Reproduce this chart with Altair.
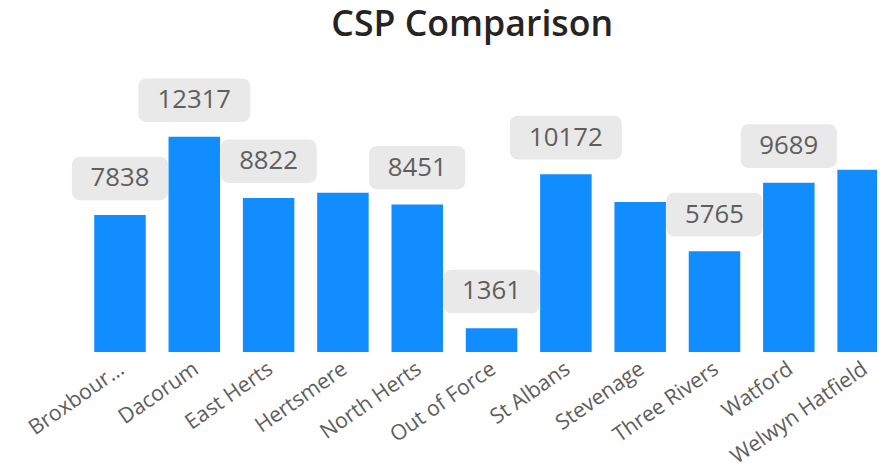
import altair as alt
import pandas as pd

categories = ["Broxbourne", "Dacorum", "East Herts", "Hertsmere", "North Herts",
              "Out of Force", "St Albans", "Stevenage", "Three Rivers", "Watford",
              "Welwyn Hatfield"]
tick_labels = ["Broxbour...", "Dacorum", "East Herts", "Hertsmere", "North Herts",
               "Out of Force", "St Albans", "Stevenage", "Three Rivers", "Watford",
               "Welwyn Hatfield"]
csp_values = [7838, 12317, 8822, 9120, 8451, 1361, 10172, 8590, 5765, 9689, 10430]
label_shown = [True, True, True, False, True, True, True, False, True, True, False]

df = pd.DataFrame({
    "Area": categories,
    "CSP": csp_values,
    "shown": label_shown,
})

label_map = dict(zip(categories, tick_labels))
label_expr = " : ".join(
    [f"datum.value == '{k}' ? '{v}'" for k, v in label_map.items()] + ["datum.value"]
)

FONT = "Open Sans"
BLUE = "#118DFF"

x_enc = alt.X(
    "Area:N",
    sort=categories,
    title=None,
    scale=alt.Scale(range=[23.5, 848.5], paddingInner=0.307, paddingOuter=0.1535),
    axis=alt.Axis(
        labelAngle=-35,
        labelAlign="right",
        labelBaseline="top",
        labelFont=FONT,
        labelFontSize=21.5,
        labelColor="#605E5C",
        labelPadding=6,
        labelOffset=-4,
        labelExpr=label_expr,
        labelOverlap=False,
        labelLimit=300,
        domain=False,
        ticks=False,
        grid=False,
    ),
)
y_enc = alt.Y("CSP:Q", scale=alt.Scale(domain=[0, 16000]), axis=None, title=None)

base = alt.Chart(df)

bars = base.mark_bar(color=BLUE, clip=True).encode(x=x_enc, y=y_enc)

labelled = base.transform_filter("datum.shown")

box4 = labelled.transform_filter("datum.CSP < 10000").mark_bar(
    width=97, cornerRadius=8, color="#E9E9E9", yOffset=-59, y2Offset=-15
).encode(x=x_enc, y=y_enc, y2="CSP:Q")

box5 = labelled.transform_filter("datum.CSP >= 10000").mark_bar(
    width=113, cornerRadius=8, color="#E9E9E9", yOffset=-59, y2Offset=-15
).encode(x=x_enc, y=y_enc, y2="CSP:Q")

texts = labelled.mark_text(
    font=FONT, fontSize=26, color="#605E5C", baseline="alphabetic", align="center", dy=-29
).encode(x=x_enc, y=y_enc, text="CSP:Q")

chart = alt.layer(bars, box4, box5, texts).properties(
    width=825,
    height=282,
    autosize=alt.AutoSizeParams(type="none"),
    padding={"left": 52, "top": 63, "right": 0, "bottom": 120},
    title=alt.Title(
        "CSP Comparison",
        font=FONT,
        fontSize=36,
        fontWeight=600,
        color="#252423",
        anchor="middle",
        frame="group",
        baseline="alphabetic",
        offset=1,
        dx=4,
    ),
).configure_view(stroke=None)

chart.save("out.html", embed_options={"renderer": "svg", "actions": False})
